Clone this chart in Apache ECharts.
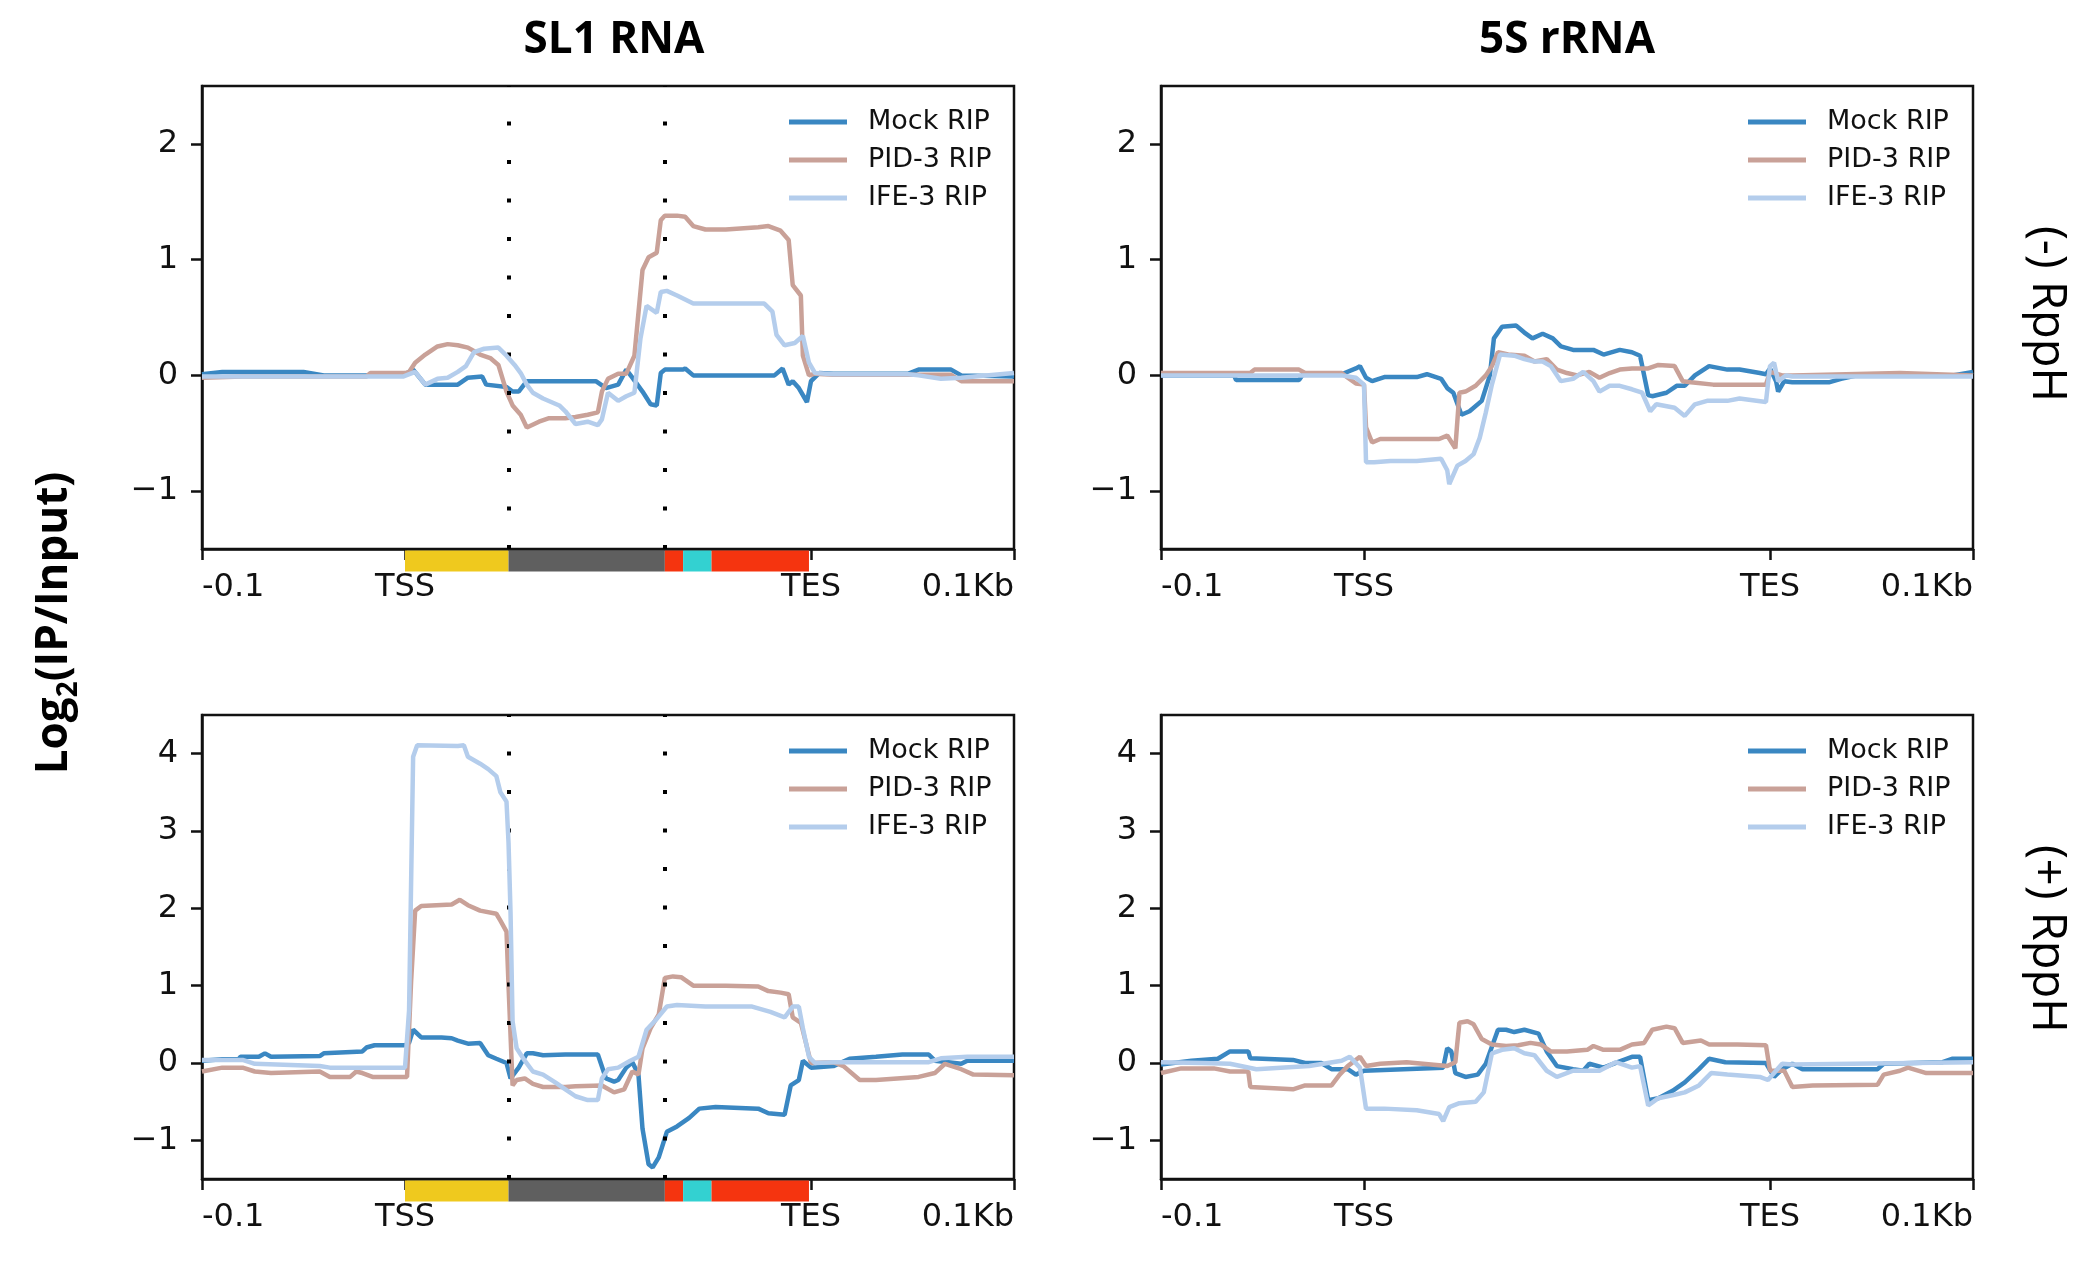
<!DOCTYPE html>
<html>
<head>
<meta charset="utf-8">
<title>RIP metagene profiles</title>
<script src="https://cdn.jsdelivr.net/npm/echarts@6/dist/echarts.min.js"></script>
<style>
  html, body { margin: 0; padding: 0; background: #fff; }
  #chart { width: 2074px; height: 1269px; }
</style>
</head>
<body>
<div id="chart"></div>
<script>
// x in bins: -0.1kb = 0, TSS = 100, TES = 300, +0.1kb = 400
const xTickPos = [0, 100, 300, 400]
const xTickLabels = ["-0.1", "TSS", "TES", "0.1Kb"]
const yTicksTop = [-1, 0, 1, 2]
const yTicksBottom = [-1, 0, 1, 2, 3, 4]
const seriesNames = ["Mock RIP", "PID-3 RIP", "IFE-3 RIP"]
const colTitles = ["SL1 RNA", "5S rRNA"]
const rowLabels = ["(-) RppH", "(+) RppH"]
// SL1 gene model (bin boundaries) + dotted guide lines
const geneBounds = [100, 151, 228, 237, 251, 299]
const dottedX = [151, 228]

// SL1 RNA, (-) RppH
const mockTL = [[0,0.01],[10,0.03],[50,0.03],[60,0],[99,0],[104,0.05],[110,-0.08],[126,-0.08],[131,-0.02],[138,-0.01],[140,-0.08],[150,-0.1],[153,-0.14],[156,-0.14],[160,-0.05],[194,-0.05],[199,-0.11],[205,-0.08],[209,0.05],[212,-0.02],[217,-0.14],[221,-0.25],[224,-0.26],[226,0.02],[228,0.05],[237,0.05],[238,0.06],[242,0],[282,0],[286,0.06],[289,-0.08],[291,-0.05],[294,-0.11],[298,-0.23],[300,-0.05],[304,0.02],[311,0.015],[348,0.015],[353,0.05],[369,0.05],[374,0],[400,-0.01]]
const pidTL = [[0,-0.02],[20,-0.01],[81,-0.01],[83,0.02],[100,0.02],[102,0.03],[105,0.11],[110,0.18],[116,0.25],[121,0.27],[126,0.26],[131,0.24],[137,0.18],[142,0.15],[146,0.09],[150,-0.14],[153,-0.26],[157,-0.34],[160,-0.45],[166,-0.4],[171,-0.37],[179,-0.37],[184,-0.36],[190,-0.34],[195,-0.32],[197,-0.14],[200,-0.03],[205,0.015],[209,0.015],[213,0.17],[217,0.91],[220,1.02],[224,1.06],[226,1.34],[228,1.38],[234,1.38],[238,1.37],[242,1.29],[248,1.26],[258,1.26],[274,1.28],[279,1.29],[285,1.25],[289,1.17],[291,0.78],[295,0.69],[296,0.17],[299,0],[302,0.015],[311,0.005],[369,0.005],[374,-0.05],[400,-0.05]]
const ifeTL = [[0,-0.01],[99,-0.01],[105,0.03],[110,-0.08],[116,-0.03],[121,-0.02],[126,0.03],[130,0.08],[134,0.2],[139,0.23],[146,0.24],[150,0.17],[154,0.09],[157,0.02],[160,-0.08],[163,-0.15],[168,-0.2],[176,-0.26],[179,-0.31],[184,-0.42],[190,-0.4],[195,-0.43],[197,-0.38],[200,-0.15],[205,-0.22],[209,-0.18],[213,-0.15],[216,0.32],[219,0.6],[224,0.54],[226,0.72],[229,0.73],[234,0.69],[242,0.62],[253,0.62],[277,0.62],[281,0.55],[283,0.35],[287,0.26],[292,0.28],[296,0.34],[299,0.11],[302,0.02],[311,0.01],[348,0.01],[353,0],[364,-0.03],[374,-0.02],[400,0.02]]

// 5S rRNA, (-) RppH
const mockTR = [[0,0],[36,0],[37,-0.04],[68,-0.04],[70,0.01],[89,0.01],[96,0.06],[98,0.08],[101,-0.02],[104,-0.05],[110,-0.015],[126,-0.015],[131,0.01],[138,-0.03],[141,-0.11],[144,-0.15],[148,-0.34],[152,-0.31],[158,-0.22],[162,0],[164,0.32],[168,0.42],[175,0.43],[179,0.37],[183,0.32],[188,0.36],[193,0.32],[197,0.25],[203,0.22],[213,0.22],[218,0.18],[226,0.22],[232,0.2],[236,0.17],[240,-0.17],[242,-0.18],[249,-0.15],[254,-0.09],[258,-0.09],[263,0],[270,0.08],[279,0.05],[285,0.05],[295,0.02],[298,0.01],[300,0.06],[303,-0.05],[304,-0.14],[307,-0.05],[311,-0.06],[329,-0.06],[335,-0.03],[343,0],[390,0],[400,0.03]]
const pidTR = [[0,0.02],[44,0.02],[46,0.05],[68,0.05],[71,0.02],[89,0.02],[92,-0.02],[96,-0.07],[100,-0.08],[101,-0.45],[104,-0.58],[108,-0.55],[137,-0.55],[141,-0.52],[145,-0.63],[147,-0.15],[150,-0.14],[155,-0.09],[160,0],[163,0.08],[166,0.2],[171,0.18],[179,0.17],[184,0.12],[190,0.14],[195,0.05],[200,0.02],[205,0],[211,0.03],[216,-0.02],[221,0.02],[226,0.05],[232,0.06],[240,0.06],[245,0.09],[253,0.08],[257,-0.05],[261,-0.06],[272,-0.08],[298,-0.08],[300,0.03],[306,0],[311,0],[364,0.02],[400,0]]
const ifeTR = [[0,0],[89,0],[96,-0.02],[100,-0.08],[101,-0.75],[105,-0.75],[113,-0.74],[126,-0.74],[138,-0.72],[141,-0.82],[142,-0.94],[146,-0.78],[150,-0.74],[154,-0.68],[157,-0.54],[160,-0.32],[163,-0.08],[167,0.18],[174,0.17],[179,0.14],[184,0.12],[188,0.12],[192,0.08],[197,-0.05],[203,-0.03],[208,0.03],[213,-0.05],[216,-0.14],[221,-0.09],[226,-0.09],[232,-0.12],[237,-0.15],[241,-0.31],[244,-0.25],[253,-0.28],[258,-0.35],[263,-0.25],[269,-0.22],[279,-0.22],[285,-0.2],[298,-0.23],[300,0.08],[302,0.11],[304,-0.05],[308,0],[311,-0.01],[400,-0.01]]

// SL1 RNA, (+) RppH
const mockBL = [[0,0.03],[10,0.05],[18,0.05],[19,0.08],[28,0.08],[31,0.125],[34,0.08],[58,0.09],[60,0.125],[79,0.15],[81,0.2],[85,0.23],[100,0.23],[102,0.26],[104,0.43],[108,0.33],[118,0.33],[123,0.32],[126,0.29],[131,0.25],[137,0.26],[141,0.1],[145,0.055],[150,0],[152,-0.2],[156,-0.06],[160,0.125],[163,0.125],[168,0.1],[179,0.11],[195,0.11],[199,-0.2],[203,-0.24],[205,-0.22],[209,-0.06],[212,0.01],[215,-0.15],[217,-0.85],[220,-1.31],[222,-1.35],[225,-1.22],[229,-0.89],[234,-0.82],[240,-0.71],[245,-0.59],[253,-0.57],[274,-0.59],[279,-0.65],[287,-0.67],[290,-0.29],[294,-0.22],[296,0.03],[300,-0.06],[311,-0.04],[319,0.055],[332,0.08],[345,0.11],[358,0.11],[361,0.03],[374,-0.01],[377,0.03],[400,0.03]]
const pidBL = [[0,-0.11],[10,-0.06],[20,-0.06],[26,-0.11],[34,-0.13],[58,-0.11],[63,-0.18],[73,-0.18],[76,-0.11],[79,-0.13],[84,-0.18],[101,-0.18],[103,1.05],[105,1.97],[108,2.03],[123,2.05],[127,2.11],[131,2.04],[137,1.97],[145,1.93],[147,1.84],[150,1.7],[151,1],[153,-0.29],[155,-0.22],[159,-0.2],[163,-0.27],[168,-0.31],[179,-0.31],[184,-0.3],[197,-0.29],[203,-0.38],[208,-0.34],[212,-0.11],[215,-0.15],[217,0.19],[221,0.45],[225,0.63],[228,1.1],[232,1.12],[236,1.11],[242,1],[258,1],[274,0.99],[279,0.93],[285,0.91],[289,0.89],[291,0.59],[295,0.52],[300,0],[311,0.01],[316,-0.04],[324,-0.22],[332,-0.22],[353,-0.18],[361,-0.13],[366,-0.01],[374,-0.08],[380,-0.15],[400,-0.16]]
const ifeBL = [[0,0.04],[20,0.04],[26,-0.01],[58,-0.04],[63,-0.06],[100,-0.06],[102,0.68],[104,3.96],[106,4.11],[126,4.1],[129,4.11],[131,3.96],[137,3.87],[141,3.8],[145,3.71],[147,3.5],[150,3.38],[151,2.85],[152,1.93],[153,0.54],[155,0.19],[159,0.03],[163,-0.11],[168,-0.15],[174,-0.25],[179,-0.34],[184,-0.43],[190,-0.48],[195,-0.48],[197,-0.2],[200,-0.08],[205,-0.06],[211,0.03],[215,0.08],[219,0.43],[224,0.57],[229,0.73],[234,0.75],[248,0.73],[271,0.73],[280,0.66],[287,0.59],[291,0.73],[294,0.73],[296,0.45],[299,0.08],[302,0],[311,0.01],[358,0.01],[364,0.06],[377,0.08],[400,0.08]]

// 5S rRNA, (+) RppH
const mockBR = [[0,-0.02],[15,0.03],[28,0.055],[34,0.15],[43,0.15],[44,0.06],[65,0.04],[71,0],[79,0],[84,-0.08],[92,-0.08],[96,-0.15],[100,-0.1],[139,-0.06],[141,0.19],[143,0.15],[145,-0.13],[150,-0.18],[156,-0.15],[160,-0.01],[166,0.43],[170,0.43],[174,0.4],[179,0.43],[186,0.38],[190,0.15],[195,-0.04],[203,-0.08],[208,-0.1],[211,-0.01],[218,-0.06],[225,0.01],[232,0.08],[236,0.08],[240,-0.48],[245,-0.455],[252,-0.36],[258,-0.25],[265,-0.08],[270,0.055],[278,0.01],[298,0],[302,-0.18],[306,-0.08],[311,-0.01],[316,-0.08],[353,-0.08],[356,-0.01],[385,0.01],[390,0.055],[400,0.055]]
const pidBR = [[0,-0.13],[10,-0.07],[26,-0.07],[34,-0.11],[43,-0.11],[44,-0.31],[65,-0.34],[71,-0.29],[84,-0.29],[88,-0.15],[92,-0.04],[98,0.08],[101,-0.04],[108,-0.01],[121,0.01],[141,-0.04],[145,0.01],[147,0.52],[151,0.54],[154,0.5],[158,0.31],[163,0.24],[170,0.22],[176,0.23],[182,0.26],[187,0.24],[192,0.15],[200,0.15],[210,0.17],[213,0.22],[218,0.17],[226,0.17],[232,0.24],[238,0.26],[242,0.43],[249,0.47],[253,0.45],[257,0.26],[266,0.29],[270,0.24],[284,0.24],[298,0.23],[300,-0.1],[307,-0.1],[311,-0.31],[321,-0.29],[353,-0.28],[356,-0.15],[364,-0.1],[368,-0.06],[377,-0.13],[400,-0.13]]
const ifeBR = [[0,0.01],[20,0],[34,-0.01],[47,-0.08],[73,-0.04],[89,0.03],[93,0.08],[98,-0.06],[101,-0.59],[110,-0.59],[126,-0.61],[137,-0.66],[139,-0.75],[142,-0.57],[147,-0.52],[155,-0.5],[159,-0.38],[163,0.125],[168,0.17],[174,0.19],[179,0.125],[184,0.1],[190,-0.1],[195,-0.18],[203,-0.1],[216,-0.1],[224,0.01],[232,-0.06],[236,-0.04],[240,-0.55],[245,-0.455],[253,-0.41],[258,-0.38],[265,-0.29],[271,-0.13],[279,-0.15],[295,-0.18],[299,-0.22],[306,-0.01],[311,-0.02],[400,0.01]]

const lineColors = ["#3a87c2", "#c9a198", "#b4cdec"]
const geneColors = ["#efc91e", "#5f5f5f", "#f5340f", "#33d1d1", "#f5340f"]
const tickFont = "DejaVu Sans"

const chart = echarts.init(document.getElementById("chart"))

const panels = [
  { data: [mockTL, pidTL, ifeTL], yMax: 2.5, yTicks: yTicksTop, gene: true },
  { data: [mockTR, pidTR, ifeTR], yMax: 2.5, yTicks: yTicksTop, gene: false },
  { data: [mockBL, pidBL, ifeBL], yMax: 4.5, yTicks: yTicksBottom, gene: true },
  { data: [mockBR, pidBR, ifeBR], yMax: 4.5, yTicks: yTicksBottom, gene: false }
]
const gridPos = [
  { left: 202, top: 86, width: 812, height: 463 },
  { left: 1161, top: 86, width: 812, height: 463 },
  { left: 202, top: 715, width: 812, height: 464 },
  { left: 1161, top: 715, width: 812, height: 464 }
]

const grids = [], xAxes = [], yAxes = [], series = [], legends = []
panels.forEach((p, i) => {
  grids.push(Object.assign({ show: true, borderColor: "#111", borderWidth: 2.5, backgroundColor: "transparent" }, gridPos[i]))
  xAxes.push({
    type: "value", gridIndex: i, min: 0, max: 400,
    axisLine: { show: true, onZero: false, lineStyle: { color: "#111", width: 2.5 } },
    axisTick: { show: true, length: 11, customValues: xTickPos, lineStyle: { color: "#111", width: 2.5 } },
    axisLabel: {
      customValues: xTickPos, margin: 23, fontSize: 32, fontFamily: tickFont, color: "#111",
      alignMinLabel: "left", alignMaxLabel: "right",
      formatter: (v) => xTickLabels[xTickPos.indexOf(v)]
    },
    splitLine: { show: false }
  })
  yAxes.push({
    type: "value", gridIndex: i, min: -1.5, max: p.yMax,
    axisLine: { show: true, onZero: false, lineStyle: { color: "#111", width: 2.5 } },
    axisTick: { show: true, length: 11, customValues: p.yTicks, lineStyle: { color: "#111", width: 2.5 } },
    axisLabel: {
      customValues: p.yTicks, margin: 24, fontSize: 32, fontFamily: tickFont, color: "#111",
      formatter: (v) => (v < 0 ? "\u2212" + Math.abs(v) : String(v))
    },
    splitLine: { show: false }
  })
  p.data.forEach((d, k) => {
    const s = {
      type: "line", name: seriesNames[k], xAxisIndex: i, yAxisIndex: i,
      data: d, showSymbol: false, symbol: "none", smooth: false, animation: false,
      color: lineColors[k], lineStyle: { color: lineColors[k], width: 4.5 }, z: 3 + k
    }
    if (p.gene && k === 0) {
      s.markLine = {
        silent: true, symbol: "none", animation: false,
        label: { show: false },
        lineStyle: { color: "#000", width: 4, type: [4, 34.5], cap: "butt" },
        data: dottedX.map((x) => ({ xAxis: x }))
      }
    }
    series.push(s)
  })
  if (p.gene) {
    const segs = []
    for (let j = 0; j < geneBounds.length - 1; j++) segs.push([geneBounds[j], geneBounds[j + 1]])
    series.push({
      type: "custom", xAxisIndex: i, yAxisIndex: i, clip: false, silent: true, animation: false, z: 10,
      data: segs,
      renderItem: (params, api) => {
        const a = api.coord([api.value(0), -1.5])
        const b = api.coord([api.value(1), -1.5])
        return {
          type: "rect",
          shape: { x: a[0], y: a[1] + 1.5, width: b[0] - a[0], height: 21 },
          style: { fill: geneColors[params.dataIndex] }
        }
      }
    })
  }
  legends.push({
    data: seriesNames, orient: "vertical", selectedMode: false, padding: 0,
    left: gridPos[i].left + 587, top: gridPos[i].top + 22,
    icon: "rect", itemWidth: 58, itemHeight: 5, itemGap: 10,
    textStyle: { fontSize: 27, fontFamily: tickFont, color: "#111", lineHeight: 28, padding: [0, 0, 0, 16] }
  })
})

const graphics = [
  { type: "text", x: 614, y: 40, style: { text: colTitles[0], font: "bold 44px 'Open Sans'", fill: "#000", align: "center", verticalAlign: "middle" } },
  { type: "text", x: 1567, y: 40, style: { text: colTitles[1], font: "bold 44px 'Open Sans'", fill: "#000", align: "center", verticalAlign: "middle" } },
  { type: "text", x: 2046, y: 314, rotation: -Math.PI / 2, style: { text: rowLabels[0], font: "47px 'Open Sans'", fill: "#000", align: "center", verticalAlign: "middle" } },
  { type: "text", x: 2046, y: 939, rotation: -Math.PI / 2, style: { text: rowLabels[1], font: "47px 'Open Sans'", fill: "#000", align: "center", verticalAlign: "middle" } },
  {
    type: "text", x: 54, y: 623, rotation: Math.PI / 2,
    style: {
      text: "{b|Log}{s|2}{b|(IP/Input)}", align: "center", verticalAlign: "middle",
      rich: {
        b: { fontFamily: "Open Sans", fontWeight: "bold", fontSize: 44, fill: "#000", lineHeight: 58, verticalAlign: "middle" },
        s: { fontFamily: "Open Sans", fontWeight: "bold", fontSize: 28, fill: "#000", lineHeight: 58, verticalAlign: "bottom" }
      }
    }
  }
]

chart.setOption({
  backgroundColor: "#fff",
  animation: false,
  grid: grids,
  xAxis: xAxes,
  yAxis: yAxes,
  legend: legends,
  series: series,
  graphic: graphics
})
</script>
</body>
</html>
